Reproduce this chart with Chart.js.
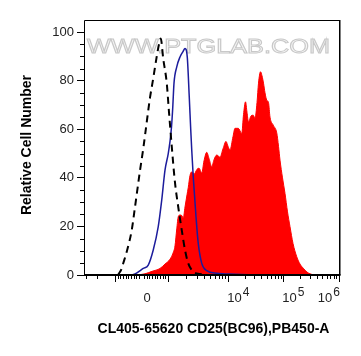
<!DOCTYPE html>
<html>
<head>
<meta charset="utf-8">
<script src="https://cdn.jsdelivr.net/npm/chart.js@4.4.1/dist/chart.umd.min.js"></script>
<style>
html,body{margin:0;padding:0;background:#fff;}
canvas{display:block;}
</style>
</head>
<body>
<canvas id="c" width="361" height="356"></canvas>
<script>
// ---- Data (x = display channel on a 0–1024 biexponential scale, y = relative cell number) ----
const controlX = [136, 151, 157, 172, 191, 204, 224, 237, 251, 264, 277, 291, 300, 307, 317, 331, 340, 351, 364, 377, 391, 404, 417, 437, 464, 488];
const controlY = [0, 2.7, 4.8, 10, 18.5, 28, 43, 52, 63, 73, 81, 90, 95, 97.4, 89, 79, 67, 53, 38, 28, 18.5, 10.3, 4.8, 1.4, 0.4, 0];

const isotypeX = [0, 184, 204, 237, 257, 277, 297, 311, 324, 337, 344, 350, 355, 360, 371, 384, 396, 404, 413, 421, 427, 431, 437, 448, 457, 471, 491, 531, 604, 684];
const isotypeY = [0, 0, 0.4, 2.7, 4.1, 10.3, 19.9, 30.9, 43.2, 50, 55, 61, 69, 79, 85.7, 89.8, 92, 93.3, 89.8, 73.4, 59.7, 51.4, 40.4, 24, 13, 4.8, 1.8, 0.7, 0.3, 0];

const stainedX = [0, 204, 244, 272, 304, 324, 344, 356, 364, 371, 377, 384, 391, 397, 404, 412, 417, 424, 432, 440, 452, 460, 471, 480, 491, 500, 511, 520, 531, 544, 556, 568, 576, 584, 596, 604, 617, 631, 638, 646, 652, 658, 668, 677, 684, 692, 698, 706, 712, 718, 724, 731, 738, 744, 757, 771, 778, 784, 794, 804, 814, 824, 836, 851, 864, 877, 892, 904, 924, 1024];
const stainedY = [0, 0, 0.5, 1.5, 2.7, 4.5, 6.5, 9, 12, 19, 24, 24.7, 24.5, 23.5, 28, 33, 36, 41, 42.5, 41.5, 43.5, 44, 42, 47, 50.5, 48, 44.6, 47.5, 49.4, 48.5, 52, 55, 53, 51.5, 57, 60.4, 60.4, 58.3, 66, 71.3, 67, 63, 65.5, 65.8, 64.5, 71, 79, 83.7, 82, 79, 75, 72, 71, 65, 61.7, 58.5, 53, 47.3, 40, 33.6, 26, 19.9, 13, 7.5, 4.5, 2.8, 1.2, 0.5, 0, 0];

// x axis decades: value -> display channel
const xDecadeValues   = [-1000, 0, 1000, 10000, 100000, 1000000];
const xDecadeChannels = [124, 230, 335, 577, 797, 1020];
const xLabelBase = ['', '0', '', '10', '10', '10'];
const xLabelExp  = ['', '', '', '4', '5', '6'];

const yMajorStep = 20;
const yMinorStep = 5;

const xTitle = 'CL405-65620 CD25(BC96),PB450-A';
const yTitle = 'Relative Cell Number';
const watermark = 'WWW.PTGLAB.COM';

const FONT = '"Liberation Sans", Arial, Helvetica, sans-serif';

function pts(xs, ys) { return xs.map((x, i) => ({x: x, y: ys[i]})); }

// minor tick channels derived from the decade table
function minorChannels() {
  const out = [];
  const chNeg = xDecadeChannels[0], ch0 = xDecadeChannels[1], chPos = xDecadeChannels[2];
  for (let v = -900; v <= 900; v += 100) {
    if (v === 0) continue;
    out.push(v < 0 ? ch0 + (v / 1000) * (ch0 - chNeg) : ch0 + (v / 1000) * (chPos - ch0));
  }
  const span1 = xDecadeChannels[3] - xDecadeChannels[2];
  for (let m = 2; m <= 9; m++) {
    const c = chNeg - Math.log10(m) * span1;
    if (c > 2) out.push(c);
  }
  for (let k = 2; k < xDecadeChannels.length - 1; k++) {
    const a = xDecadeChannels[k], b = xDecadeChannels[k + 1];
    for (let m = 2; m <= 9; m++) out.push(a + Math.log10(m) * (b - a));
  }
  return out;
}

const decor = {
  id: 'decor',
  beforeDatasetsDraw(chart) {
    const ctx = chart.ctx, a = chart.chartArea;
    ctx.save();
    ctx.font = '21px ' + FONT;
    const w = ctx.measureText(watermark).width;
    ctx.translate(a.left + 3, a.top + 33);
    ctx.scale(243 / w, 1);
    ctx.fillStyle = '#f6f6f6';
    ctx.strokeStyle = '#c8c8c8';
    ctx.lineWidth = 1;
    ctx.fillText(watermark, 0, 0);
    ctx.strokeText(watermark, 0, 0);
    ctx.restore();
  },
  afterDraw(chart) {
    const ctx = chart.ctx, a = chart.chartArea;
    const xs = chart.scales.x, ys = chart.scales.y;
    ctx.save();
    ctx.strokeStyle = '#000';
    // frame
    ctx.lineWidth = 1;
    ctx.beginPath();
    ctx.moveTo(a.left + 0.5, a.bottom);
    ctx.lineTo(a.left + 0.5, a.top + 0.5);
    ctx.lineTo(a.right, a.top + 0.5);
    ctx.stroke();
    ctx.lineWidth = 1.5;
    ctx.beginPath();
    ctx.moveTo(a.right - 0.25, a.top);
    ctx.lineTo(a.right - 0.25, a.bottom);
    ctx.stroke();
    ctx.lineWidth = 2;
    ctx.beginPath();
    ctx.moveTo(a.left, a.bottom);
    ctx.lineTo(a.right + 0.5, a.bottom);
    ctx.stroke();

    // x ticks
    ctx.lineWidth = 1;
    ctx.beginPath();
    xDecadeChannels.forEach((ch, i) => {
      if (xDecadeValues[i] === 0) return;
      const p = Math.round(xs.getPixelForValue(ch)) + 0.5;
      ctx.moveTo(p, a.bottom); ctx.lineTo(p, a.bottom + 7);
    });
    minorChannels().forEach(ch => {
      const p = Math.round(xs.getPixelForValue(ch)) + 0.5;
      ctx.moveTo(p, a.bottom); ctx.lineTo(p, a.bottom + 4);
    });
    ctx.stroke();

    // y minor ticks
    ctx.beginPath();
    for (let v = 0; v <= 100; v += yMinorStep) {
      if (v % yMajorStep === 0) continue;
      const p = Math.round(ys.getPixelForValue(v)) + 0.5;
      ctx.moveTo(a.left - 4, p); ctx.lineTo(a.left, p);
    }
    ctx.stroke();

    // x tick labels
    ctx.fillStyle = '#222';
    ctx.textBaseline = 'alphabetic';
    ctx.textAlign = 'left';
    const baseY = a.bottom + 27;
    xDecadeChannels.forEach((ch, i) => {
      const base = xLabelBase[i], exp = xLabelExp[i];
      if (!base) return;
      ctx.font = '13px ' + FONT;
      const wb = ctx.measureText(base).width;
      ctx.font = '12px ' + FONT;
      const we = exp ? ctx.measureText(exp).width + 1 : 0;
      let left = xs.getPixelForValue(ch) + (exp ? -1 : 2);
      if (left + wb + we > a.right) left = a.right - wb - we;
      ctx.font = '13px ' + FONT;
      ctx.fillText(base, left, baseY);
      if (exp) {
        ctx.font = '12px ' + FONT;
        ctx.fillText(exp, left + wb + 1, baseY - 6);
      }
    });

    // titles
    ctx.fillStyle = '#000';
    ctx.font = 'bold 14px ' + FONT;
    ctx.textAlign = 'center';
    ctx.textBaseline = 'middle';
    ctx.fillText(xTitle, 213.5, 329);
    ctx.translate(27, 145);
    ctx.rotate(-Math.PI / 2);
    ctx.fillText(yTitle, 0, 0);
    ctx.restore();
  }
};

new Chart(document.getElementById('c'), {
  type: 'line',
  data: {
    datasets: [
      {
        label: 'Control',
        data: pts(controlX, controlY),
        borderColor: '#000',
        borderWidth: 2,
        borderDash: [7, 5],
        fill: false,
        pointRadius: 0,
        cubicInterpolationMode: 'monotone',
        order: 1
      },
      {
        label: 'Isotype',
        data: pts(isotypeX, isotypeY),
        borderColor: '#1c1c9c',
        borderWidth: 1.5,
        fill: false,
        pointRadius: 0,
        cubicInterpolationMode: 'monotone',
        order: 2
      },
      {
        label: 'CD25',
        data: pts(stainedX, stainedY),
        borderColor: '#ff0000',
        backgroundColor: '#ff0000',
        borderWidth: 1,
        fill: 'origin',
        pointRadius: 0,
        cubicInterpolationMode: 'monotone',
        order: 3
      }
    ]
  },
  options: {
    responsive: false,
    animation: false,
    devicePixelRatio: 1,
    layout: { padding: { left: 0, top: 20, right: 21, bottom: 0 } },
    plugins: { legend: { display: false }, tooltip: { enabled: false }, title: { display: false } },
    scales: {
      x: {
        type: 'linear',
        min: 0,
        max: 1024,
        ticks: { display: false },
        grid: { display: false },
        border: { display: false },
        afterFit: (s) => { s.height = 81; }
      },
      y: {
        type: 'linear',
        min: 0,
        max: 105,
        ticks: {
          stepSize: yMinorStep,
          autoSkip: false,
          padding: 3,
          color: '#222',
          font: { family: FONT, size: 13 },
          callback: (v) => (v % yMajorStep === 0 && v <= 100) ? String(v) : ''
        },
        grid: {
          display: true,
          drawOnChartArea: false,
          drawTicks: true,
          tickLength: 7,
          tickWidth: 1,
          tickColor: (c) => (c.tick && c.tick.value % yMajorStep === 0 && c.tick.value <= 100) ? '#000' : 'rgba(0,0,0,0)'
        },
        border: { display: false },
        afterFit: (s) => { s.width = 84; }
      }
    }
  },
  plugins: [decor]
});
</script>
</body>
</html>
